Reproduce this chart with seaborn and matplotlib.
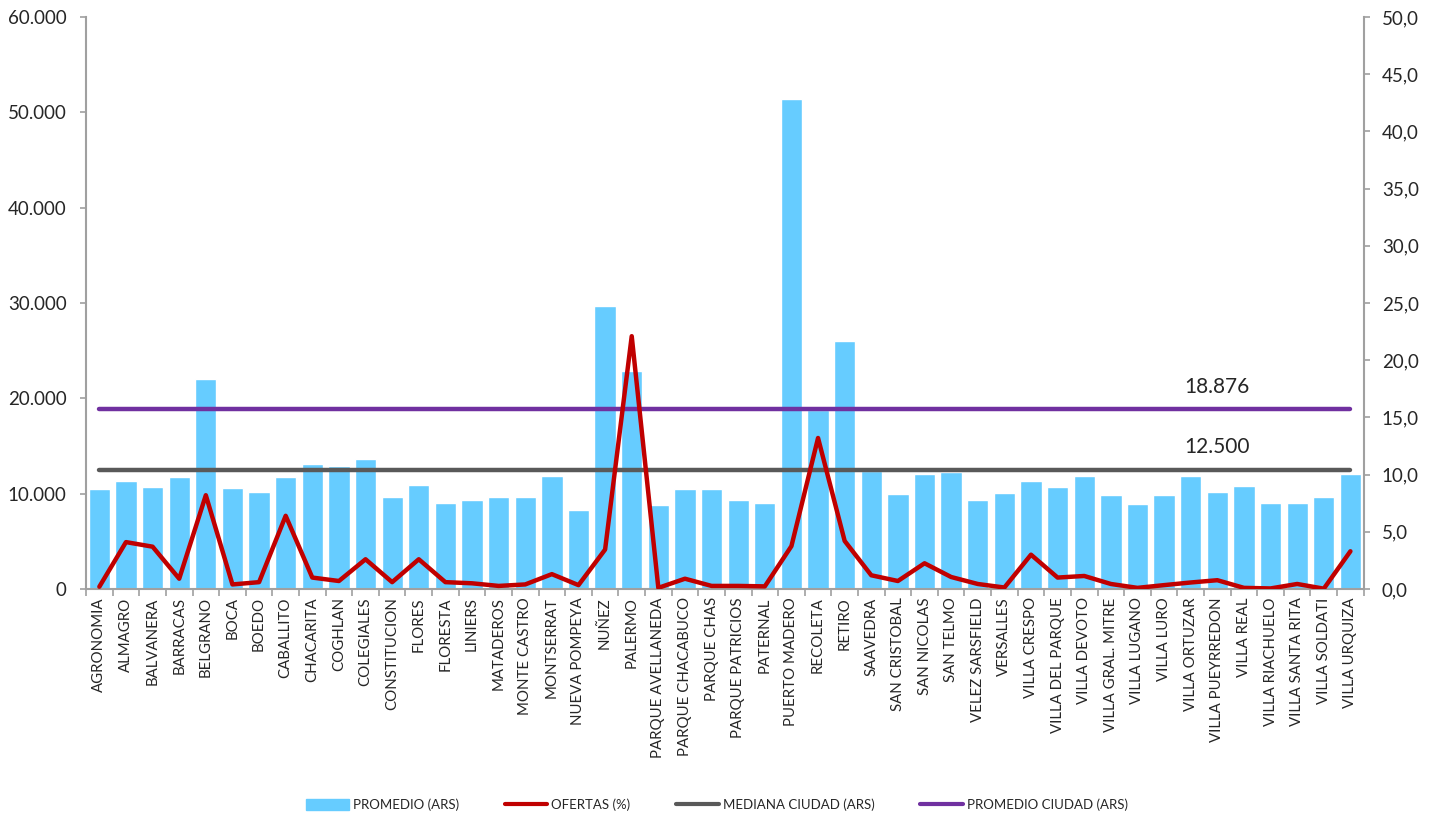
import numpy as np
import pandas as pd
import seaborn as sns
import matplotlib.pyplot as plt
from matplotlib.ticker import FuncFormatter, FixedLocator
from matplotlib.patches import Patch
from matplotlib.lines import Line2D

sns.set_style('ticks')
plt.rcParams['font.family'] = ['Lato', 'DejaVu Sans']

barrios = ['AGRONOMIA', 'ALMAGRO', 'BALVANERA', 'BARRACAS', 'BELGRANO', 'BOCA', 'BOEDO',
           'CABALLITO', 'CHACARITA', 'COGHLAN', 'COLEGIALES', 'CONSTITUCION', 'FLORES',
           'FLORESTA', 'LINIERS', 'MATADEROS', 'MONTE CASTRO', 'MONTSERRAT', 'NUEVA POMPEYA',
           'NUÑEZ', 'PALERMO', 'PARQUE AVELLANEDA', 'PARQUE CHACABUCO', 'PARQUE CHAS',
           'PARQUE PATRICIOS', 'PATERNAL', 'PUERTO MADERO', 'RECOLETA', 'RETIRO', 'SAAVEDRA',
           'SAN CRISTOBAL', 'SAN NICOLAS', 'SAN TELMO', 'VELEZ SARSFIELD', 'VERSALLES',
           'VILLA CRESPO', 'VILLA DEL PARQUE', 'VILLA DEVOTO', 'VILLA GRAL. MITRE',
           'VILLA LUGANO', 'VILLA LURO', 'VILLA ORTUZAR', 'VILLA PUEYRREDON', 'VILLA REAL',
           'VILLA RIACHUELO', 'VILLA SANTA RITA', 'VILLA SOLDATI', 'VILLA URQUIZA']

promedio = [10530, 11300, 10700, 11780, 22070, 10610, 10130, 11740, 13070, 12950, 13670,
            9650, 10900, 8970, 9370, 9610, 9650, 11900, 8240, 29710, 22920, 8800, 10530,
            10530, 9370, 9000, 51430, 18800, 26050, 12400, 9970, 12100, 12260, 9330, 10050,
            11380, 10740, 11820, 9810, 8890, 9810, 11820, 10130, 10820, 8970, 9050, 9610, 12060]

ofertas = [0.2, 4.1, 3.7, 0.9, 8.2, 0.4, 0.6, 6.4, 1.0, 0.7, 2.6, 0.6, 2.6, 0.6, 0.5, 0.27,
           0.4, 1.3, 0.34, 3.45, 22.1, 0.1, 0.9, 0.27, 0.27, 0.23, 3.75, 13.2, 4.2, 1.2, 0.7,
           2.25, 1.05, 0.44, 0.13, 3.0, 1.0, 1.14, 0.44, 0.1, 0.34, 0.57, 0.77, 0.1, 0.05,
           0.44, 0.03, 3.3]

mediana_ciudad = 12500
promedio_ciudad = 18876

df = pd.DataFrame({'barrio': barrios, 'promedio': promedio, 'ofertas': ofertas})
df['pos'] = np.arange(len(df))

fig = plt.figure(figsize=(14.34, 8.14), dpi=100)
ax = fig.add_axes([0.06, 0.2764, 0.891, 0.7027])

sns.barplot(data=df, x='pos', y='promedio', color='#66CCFF', saturation=1, width=0.8,
            ax=ax, native_scale=True)
sns.lineplot(x=df['pos'], y=[mediana_ciudad] * len(df), color='#595959', lw=3.2, ax=ax)
sns.lineplot(x=df['pos'], y=[promedio_ciudad] * len(df), color='#7030A0', lw=3.2, ax=ax)

ax2 = ax.twinx()
sns.lineplot(x=df['pos'], y=df['ofertas'], color='#C00000', lw=3.2, ax=ax2)

# etiquetas de las lineas de ciudad
fmt_miles = lambda v: f'{v:,.0f}'.replace(',', '.')
ax.text(42.0, promedio_ciudad + 1300, fmt_miles(promedio_ciudad), ha='center', va='bottom', fontsize=15)
ax.text(42.0, mediana_ciudad + 1300, fmt_miles(mediana_ciudad), ha='center', va='bottom', fontsize=15)

ax.set_xlim(-0.5, len(df) - 0.5)
ax.set_ylim(0, 60000)
ax.set_yticks(np.arange(0, 60001, 10000))
ax.yaxis.set_major_formatter(FuncFormatter(lambda v, p: fmt_miles(v)))
ax2.set_ylim(0, 50)
ax2.set_yticks(np.arange(0, 50.1, 5))
ax2.yaxis.set_major_formatter(FuncFormatter(lambda v, p: f'{v:.1f}'.replace('.', ',')))

ax.set_xticks(df['pos'])
ax.set_xticklabels(df['barrio'], rotation=90, fontsize=10.8)
ax.xaxis.set_minor_locator(FixedLocator(np.arange(-0.5, len(df), 1)))
ax.tick_params(axis='x', which='major', length=0, pad=6)
ax.tick_params(axis='x', which='minor', length=5, color='#A0A0A0', width=1.2)
ax.tick_params(axis='y', labelsize=13.5, length=4, color='#A0A0A0', width=1.2, pad=10)
ax2.tick_params(axis='y', labelsize=13.5, length=4, color='#A0A0A0', width=1.2, pad=9)

ax.set_xlabel('')
ax.set_ylabel('')
ax2.set_xlabel('')
ax2.set_ylabel('')
for a in (ax, ax2):
    a.spines['top'].set_visible(False)
    for s in ('left', 'right', 'bottom'):
        a.spines[s].set_color('#A0A0A0')
        a.spines[s].set_linewidth(1.5)
ax.spines['right'].set_visible(False)
ax2.spines['left'].set_visible(False)
ax2.spines['bottom'].set_visible(False)

handles = [Patch(color='#66CCFF'),
           Line2D([], [], color='#C00000', lw=3),
           Line2D([], [], color='#595959', lw=3),
           Line2D([], [], color='#7030A0', lw=3)]
labels = ['PROMEDIO (ARS)', 'OFERTAS (%)', 'MEDIANA CIUDAD (ARS)', 'PROMEDIO CIUDAD (ARS)']
fig.legend(handles, labels, loc='center', bbox_to_anchor=(0.5, 0.011), ncol=4, frameon=False,
           fontsize=9.5, handlelength=3.2, handleheight=0.9, columnspacing=3.5, handletextpad=0.3)

fig.savefig('out.png', dpi=100)
